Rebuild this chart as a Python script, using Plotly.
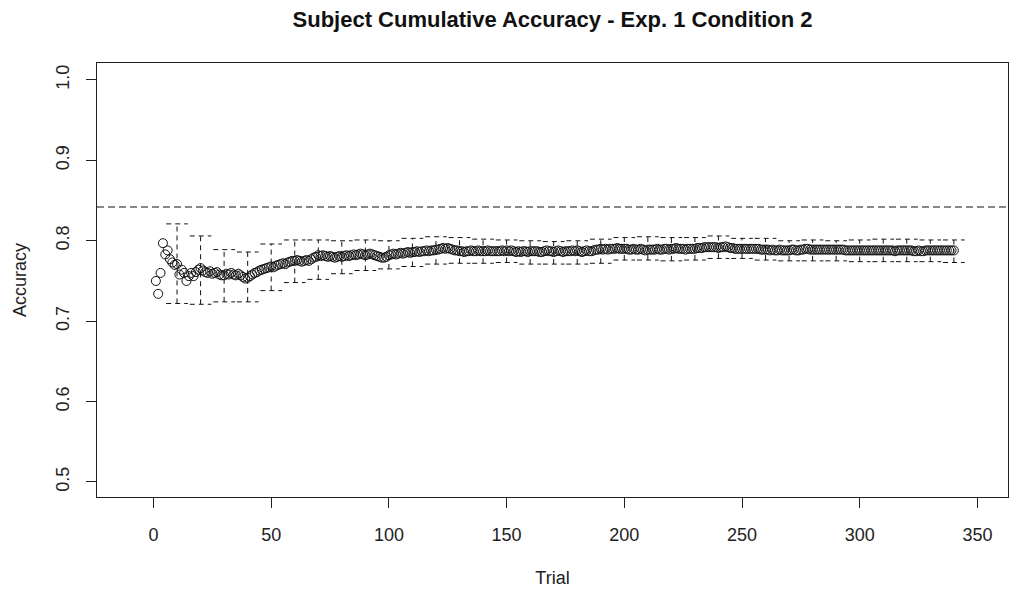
import plotly.graph_objects as go

# ---- data ----
acc_mean = [
    0.750, 0.734, 0.760, 0.797, 0.783, 0.788, 0.777, 0.773, 0.770, 0.771,
    0.758, 0.764, 0.760, 0.750, 0.756, 0.760, 0.756, 0.761, 0.764, 0.766,
    0.763, 0.761, 0.760, 0.762, 0.759, 0.760, 0.761, 0.758, 0.757, 0.757,
    0.759, 0.758, 0.760, 0.758, 0.757, 0.759, 0.757, 0.755, 0.753, 0.754,
    0.756, 0.758, 0.760, 0.761, 0.763, 0.764, 0.765, 0.766, 0.767, 0.768,
    0.767, 0.769, 0.770, 0.771, 0.772, 0.771, 0.773, 0.774, 0.775, 0.775,
    0.776, 0.775, 0.774, 0.775, 0.776, 0.775, 0.777, 0.779, 0.780, 0.782,
    0.781, 0.782, 0.781, 0.780, 0.781, 0.780, 0.779, 0.780, 0.781, 0.780,
    0.781, 0.782, 0.781, 0.782, 0.783, 0.782, 0.783, 0.784, 0.783, 0.782,
    0.783, 0.784, 0.783, 0.782, 0.781, 0.780, 0.779, 0.779, 0.780, 0.782,
    0.783, 0.784, 0.783, 0.784, 0.785, 0.784, 0.785, 0.786, 0.785, 0.786,
    0.786, 0.787, 0.786, 0.787, 0.787, 0.788, 0.787, 0.788, 0.788, 0.789,
    0.789, 0.790, 0.791, 0.790, 0.791, 0.790, 0.789, 0.788, 0.788, 0.787,
    0.787, 0.786, 0.787, 0.787, 0.788, 0.787, 0.787, 0.788, 0.787, 0.787,
    0.787, 0.788, 0.787, 0.787, 0.787, 0.787, 0.787, 0.788, 0.787, 0.788,
    0.787, 0.788, 0.787, 0.786, 0.787, 0.786, 0.787, 0.787, 0.786, 0.787,
    0.787, 0.787, 0.787, 0.786, 0.786, 0.787, 0.788, 0.787, 0.787, 0.786,
    0.787, 0.788, 0.787, 0.786, 0.787, 0.787, 0.787, 0.788, 0.787, 0.788,
    0.787, 0.786, 0.787, 0.788, 0.787, 0.787, 0.788, 0.789, 0.789, 0.790,
    0.789, 0.790, 0.789, 0.790, 0.790, 0.790, 0.791, 0.790, 0.790, 0.790,
    0.790, 0.789, 0.789, 0.790, 0.789, 0.789, 0.790, 0.789, 0.788, 0.789,
    0.789, 0.789, 0.789, 0.790, 0.789, 0.789, 0.790, 0.790, 0.789, 0.790,
    0.790, 0.791, 0.790, 0.790, 0.790, 0.789, 0.790, 0.790, 0.790, 0.790,
    0.791, 0.791, 0.791, 0.792, 0.792, 0.792, 0.792, 0.792, 0.792, 0.791,
    0.792, 0.792, 0.793, 0.792, 0.791, 0.791, 0.790, 0.790, 0.790, 0.790,
    0.790, 0.790, 0.790, 0.790, 0.790, 0.790, 0.790, 0.789, 0.789, 0.789,
    0.789, 0.788, 0.789, 0.788, 0.788, 0.789, 0.788, 0.788, 0.788, 0.788,
    0.789, 0.789, 0.788, 0.788, 0.789, 0.789, 0.790, 0.790, 0.789, 0.789,
    0.789, 0.789, 0.789, 0.789, 0.789, 0.789, 0.789, 0.789, 0.789, 0.789,
    0.789, 0.789, 0.789, 0.788, 0.788, 0.788, 0.788, 0.788, 0.788, 0.788,
    0.788, 0.788, 0.788, 0.788, 0.788, 0.788, 0.788, 0.788, 0.788, 0.788,
    0.788, 0.788, 0.788, 0.788, 0.787, 0.788, 0.788, 0.788, 0.788, 0.788,
    0.788, 0.788, 0.787, 0.787, 0.788, 0.787, 0.787, 0.788, 0.788, 0.788,
    0.788, 0.788, 0.788, 0.788, 0.788, 0.788, 0.788, 0.788, 0.788, 0.788,
]
trials = list(range(1, len(acc_mean) + 1))

bar_trials = list(range(10, 341, 10))
bar_hi = [0.821, 0.806, 0.789, 0.786, 0.796, 0.801, 0.801, 0.800, 0.801, 0.800,
          0.803, 0.805, 0.804, 0.802, 0.801, 0.800, 0.799, 0.800, 0.802, 0.804,
          0.805, 0.804, 0.804, 0.806, 0.803, 0.803, 0.800, 0.801, 0.800, 0.801,
          0.802, 0.802, 0.801, 0.801]
bar_lo = [0.722, 0.721, 0.724, 0.724, 0.738, 0.748, 0.752, 0.759, 0.763, 0.765,
          0.768, 0.771, 0.772, 0.772, 0.773, 0.771, 0.771, 0.771, 0.772, 0.776,
          0.776, 0.775, 0.776, 0.778, 0.778, 0.776, 0.775, 0.775, 0.775, 0.774,
          0.774, 0.774, 0.774, 0.773]
ref_acc = 0.842

x_ticks = [0, 50, 100, 150, 200, 250, 300, 350]
y_ticks = [0.5, 0.6, 0.7, 0.8, 0.9, 1.0]
title = "Subject Cumulative Accuracy - Exp. 1 Condition 2"

# ---- build figure ----
CAP = 4.6  # cap half-width in trial units
ex, ey = [], []
for t, hi, lo in zip(bar_trials, bar_hi, bar_lo):
    ex += [t, t, None, t - CAP, t + CAP, None, t - CAP, t + CAP, None]
    ey += [lo, hi, None, hi, hi, None, lo, lo, None]

FONT = "Liberation Sans, Arial, Helvetica, sans-serif"

fig = go.Figure()
fig.add_trace(go.Scatter(
    x=ex, y=ey, mode="lines", connectgaps=False,
    line=dict(color="#111111", width=1, dash="5px,4px"),
    hoverinfo="skip", showlegend=False))
fig.add_trace(go.Scatter(
    x=trials, y=acc_mean, mode="markers",
    marker=dict(symbol="circle-open", size=9, color="#111111",
                line=dict(width=1, color="#111111")),
    showlegend=False))
fig.add_hline(y=ref_acc, line=dict(color="#111111", width=1, dash="7px,4px"))

fig.update_layout(
    width=1013, height=592,
    margin=dict(l=97, r=5, t=63, b=95),
    paper_bgcolor="white", plot_bgcolor="white",
    font=dict(family=FONT, size=18, color="#222222"),
    title=dict(text="<b>" + title + "</b>", x=0.5, xref="paper", xanchor="center",
               y=0.968, yanchor="middle", font=dict(size=22, color="#111111")),
    showlegend=False,
)
fig.update_xaxes(
    range=[-24, 363], tickvals=x_ticks, ticktext=[str(v) for v in x_ticks],
    showgrid=False, zeroline=False, showline=True, mirror=True,
    linecolor="#222222", linewidth=1, ticks="outside", ticklen=10,
    tickcolor="#222222", ticklabelstandoff=11,
    title=dict(text="Trial", standoff=27, font=dict(size=18)),
)
fig.update_yaxes(
    range=[0.4813, 1.0211], tickvals=y_ticks,
    ticktext=["%.1f" % v for v in y_ticks], tickangle=-90,
    showgrid=False, zeroline=False, showline=True, mirror=True,
    linecolor="#222222", linewidth=1, ticks="outside", ticklen=10,
    tickcolor="#222222", ticklabelstandoff=10,
    title=dict(text="Accuracy", standoff=21, font=dict(size=18)),
)

fig.write_html("out.html")
